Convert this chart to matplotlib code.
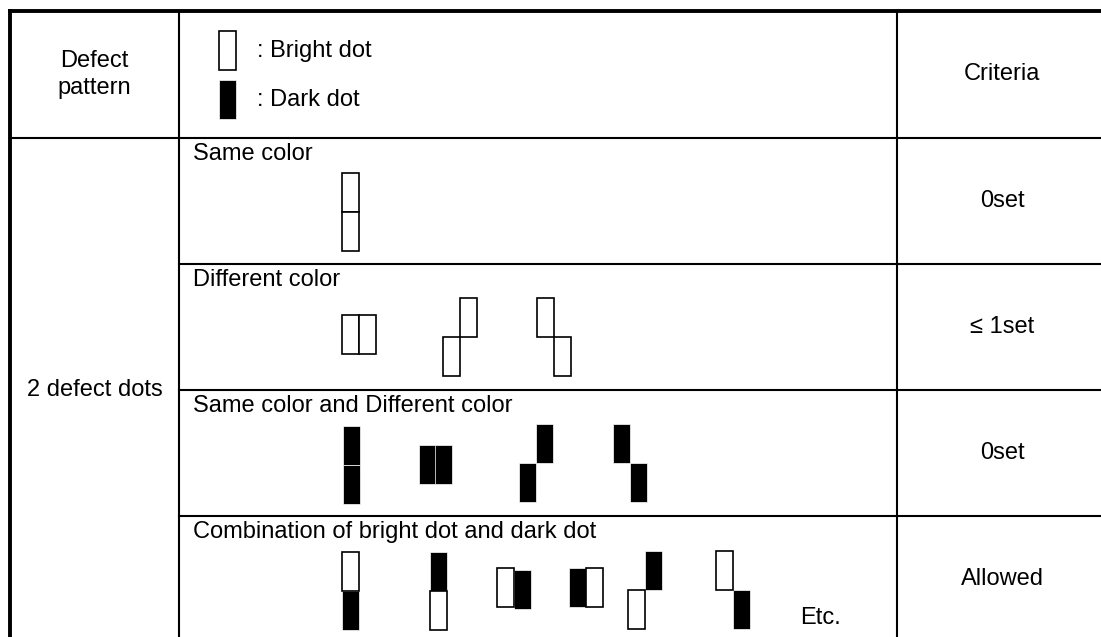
import matplotlib

matplotlib.use('Agg')
import matplotlib.pyplot as plt
from matplotlib.patches import Rectangle

plt.rcParams['font.family'] = ['Liberation Sans', 'DejaVu Sans']

# table layout (pixels, y grows downward)
col_edges = [10, 179, 897, 1107]
row_edges = [11, 138, 264, 390, 516, 642]

header = ['Defect\npattern', 'Criteria']
group_label = '2 defect dots'
row_titles = ['Same color', 'Different color', 'Same color and Different color',
              'Combination of bright dot and dark dot']
criteria = ['0set', '\u2264 1set', '0set', 'Allowed']

# dot size
DW, DH = 17, 39

# each pattern: (left x, top y, [(col, row, kind), ...]) kind B = bright, D = dark
patterns = [
    [(342, 173, [(0, 0, 'B'), (0, 1, 'B')])],
    [(342, 315, [(0, 0, 'B'), (1, 0, 'B')]),
     (443, 298, [(1, 0, 'B'), (0, 1, 'B')]),
     (537, 298, [(0, 0, 'B'), (1, 1, 'B')])],
    [(343, 426, [(0, 0, 'D'), (0, 1, 'D')]),
     (419, 445, [(0, 0, 'D'), (0.92, 0, 'D')]),
     (519, 424, [(1, 0, 'D'), (0, 1, 'D')]),
     (613, 424, [(0, 0, 'D'), (1, 1, 'D')])],
    [(342, 552, [(0, 0, 'B'), (0, 1, 'D')]),
     (430, 552, [(0, 0, 'D'), (0, 1, 'B')]),
     (497, 568, [(1, 0.05, 'D'), (0, 0, 'B')]),
     (569, 568, [(0, 0, 'D'), (1, 0, 'B')]),
     (628, 551, [(1, 0, 'D'), (0, 1, 'B')]),
     (716, 551, [(1, 1, 'D'), (0, 0, 'B')])],
]
extra_note = 'Etc.'


def draw_dot(ax, x, y, kind):
    if kind == 'D':
        ax.add_patch(Rectangle((x, y), DW, DH, facecolor='black', edgecolor='white', lw=0.5, zorder=3))
    else:
        ax.add_patch(Rectangle((x, y), DW, DH, facecolor='white', edgecolor='black', lw=1.2, zorder=4))


fig = plt.figure(figsize=(11.01, 6.37), dpi=100)
ax = fig.add_axes([0, 0, 1, 1])
ax.set_xlim(0, 1101)
ax.set_ylim(637, 0)
ax.axis('off')

fs = 17
thick, thin = 2.8, 1.5

# outer border
ax.plot([col_edges[0], col_edges[-1]], [row_edges[0], row_edges[0]], color='black', lw=thick, solid_capstyle='projecting')
ax.plot([col_edges[0], col_edges[0]], [row_edges[0], row_edges[-1]], color='black', lw=thick, solid_capstyle='projecting')
ax.plot([col_edges[-1], col_edges[-1]], [row_edges[0], row_edges[-1]], color='black', lw=thick)

# inner lines
ax.plot([col_edges[0], col_edges[-1]], [row_edges[1], row_edges[1]], color='black', lw=thin)
for y in row_edges[2:-1]:
    ax.plot([col_edges[1], col_edges[-1]], [y, y], color='black', lw=thin)
for x in col_edges[1:3]:
    ax.plot([x, x], [row_edges[0], row_edges[-1]], color='black', lw=thin)

# header
hy = (row_edges[0] + row_edges[1]) / 2
ax.text((col_edges[0] + col_edges[1]) / 2, hy, header[0], ha='center', va='center', fontsize=fs, linespacing=1.25)
ax.text((col_edges[2] + col_edges[3]) / 2, hy, header[1], ha='center', va='center', fontsize=fs)

# legend in the header
draw_dot(ax, 219, 31, 'B')
draw_dot(ax, 219, 80, 'D')
ax.text(257, 51, ': Bright dot', ha='left', va='center', fontsize=fs)
ax.text(257, 100, ': Dark dot', ha='left', va='center', fontsize=fs)

ax.text((col_edges[0] + col_edges[1]) / 2, (row_edges[1] + 637) / 2 + 3, group_label,
        ha='center', va='center', fontsize=fs)

for i, title in enumerate(row_titles):
    top = row_edges[i + 1]
    ax.text(col_edges[1] + 14, top + 16, title, ha='left', va='center', fontsize=fs)
    mid = (top + min(row_edges[i + 2], 642)) / 2
    ax.text((col_edges[2] + col_edges[3]) / 2, mid, criteria[i], ha='center', va='center', fontsize=fs)
    for px, py, dots in patterns[i]:
        for c, r, kind in dots:
            draw_dot(ax, px + c * DW, py + r * DH, kind)

ax.text(800, 618, extra_note, ha='left', va='center', fontsize=fs)

fig.savefig('out.png', dpi=100)
